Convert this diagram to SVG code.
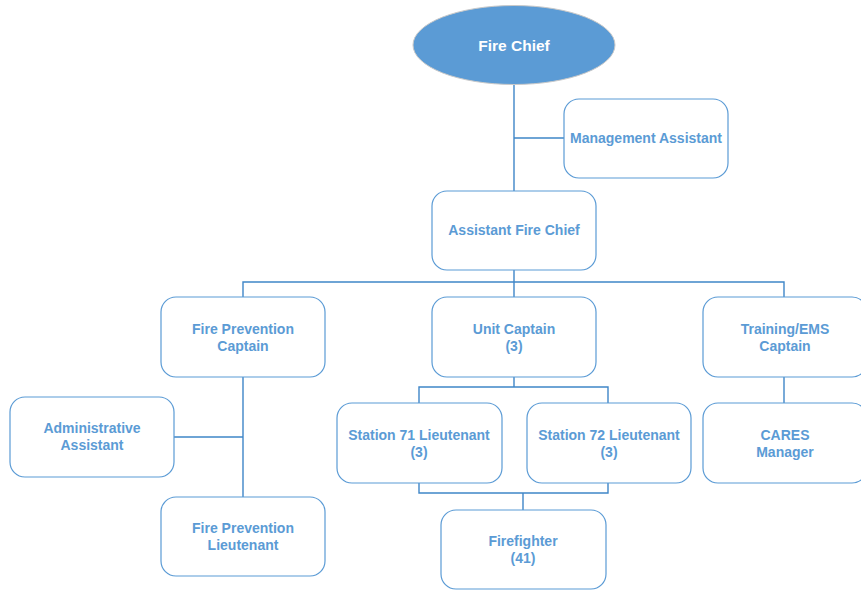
<svg xmlns="http://www.w3.org/2000/svg" width="861" height="590" viewBox="0 0 861 590">
<style>
.box{fill:#fff;stroke:#5b9bd5;stroke-width:1.2}
.t{font-family:"Liberation Sans",Arial,sans-serif;font-weight:bold;font-size:14px;fill:#5b9bd5;text-anchor:middle}
.c{fill:none;stroke:#3f86c8;stroke-width:1.4}
</style>
<rect width="861" height="590" fill="#fff"/>
<g id="connectors">
<path class="c" d="M514,84V191M514,138H564"/>
<path class="c" d="M514,270V282M243,297V282H784V297M514,282V297"/>
<path class="c" d="M243,377V497M174,437H243"/>
<path class="c" d="M514,377V387M419,403V387H608V403"/>
<path class="c" d="M419,483V493H608V483M523,493V510"/>
<path class="c" d="M784,377V403"/>
</g>
<g id="fire-chief">
<ellipse cx="514" cy="45" rx="101" ry="39.5" fill="#5b9bd5" stroke="#c9c9c9" stroke-width="1"/>
<text x="514" y="51" font-family="Liberation Sans,Arial,sans-serif" font-weight="bold" font-size="15.5" fill="#fff" text-anchor="middle">Fire Chief</text>
</g>
<g id="management-assistant">
<rect class="box" x="564" y="99" width="164" height="79" rx="15"/>
<text class="t" x="646" y="143">Management Assistant</text>
</g>
<g id="assistant-fire-chief">
<rect class="box" x="432" y="191" width="164" height="79" rx="15"/>
<text class="t" x="514" y="235">Assistant Fire Chief</text>
</g>
<g id="fire-prevention-captain">
<rect class="box" x="161" y="297" width="164" height="80" rx="15"/>
<text class="t" x="243" y="334">Fire Prevention</text>
<text class="t" x="243" y="351">Captain</text>
</g>
<g id="unit-captain">
<rect class="box" x="432" y="297" width="164" height="80" rx="15"/>
<text class="t" x="514" y="334">Unit Captain</text>
<text class="t" x="514" y="351">(3)</text>
</g>
<g id="training-ems-captain">
<rect class="box" x="703" y="297" width="164" height="80" rx="15"/>
<text class="t" x="785" y="334">Training/EMS</text>
<text class="t" x="785" y="351">Captain</text>
</g>
<g id="administrative-assistant">
<rect class="box" x="10" y="397" width="164" height="80" rx="15"/>
<text class="t" x="92" y="433">Administrative</text>
<text class="t" x="92" y="450">Assistant</text>
</g>
<g id="fire-prevention-lieutenant">
<rect class="box" x="161" y="497" width="164" height="79" rx="15"/>
<text class="t" x="243" y="533">Fire Prevention</text>
<text class="t" x="243" y="550">Lieutenant</text>
</g>
<g id="station-71-lieutenant">
<rect class="box" x="337" y="403" width="165" height="80" rx="15"/>
<text class="t" x="419" y="440">Station 71 Lieutenant</text>
<text class="t" x="419" y="457">(3)</text>
</g>
<g id="station-72-lieutenant">
<rect class="box" x="527" y="403" width="164" height="80" rx="15"/>
<text class="t" x="609" y="440">Station 72 Lieutenant</text>
<text class="t" x="609" y="457">(3)</text>
</g>
<g id="cares-manager">
<rect class="box" x="703" y="403" width="164" height="80" rx="15"/>
<text class="t" x="785" y="440">CARES</text>
<text class="t" x="785" y="457">Manager</text>
</g>
<g id="firefighter">
<rect class="box" x="441" y="510" width="165" height="79" rx="15"/>
<text class="t" x="523" y="546">Firefighter</text>
<text class="t" x="523" y="563">(41)</text>
</g>
</svg>
